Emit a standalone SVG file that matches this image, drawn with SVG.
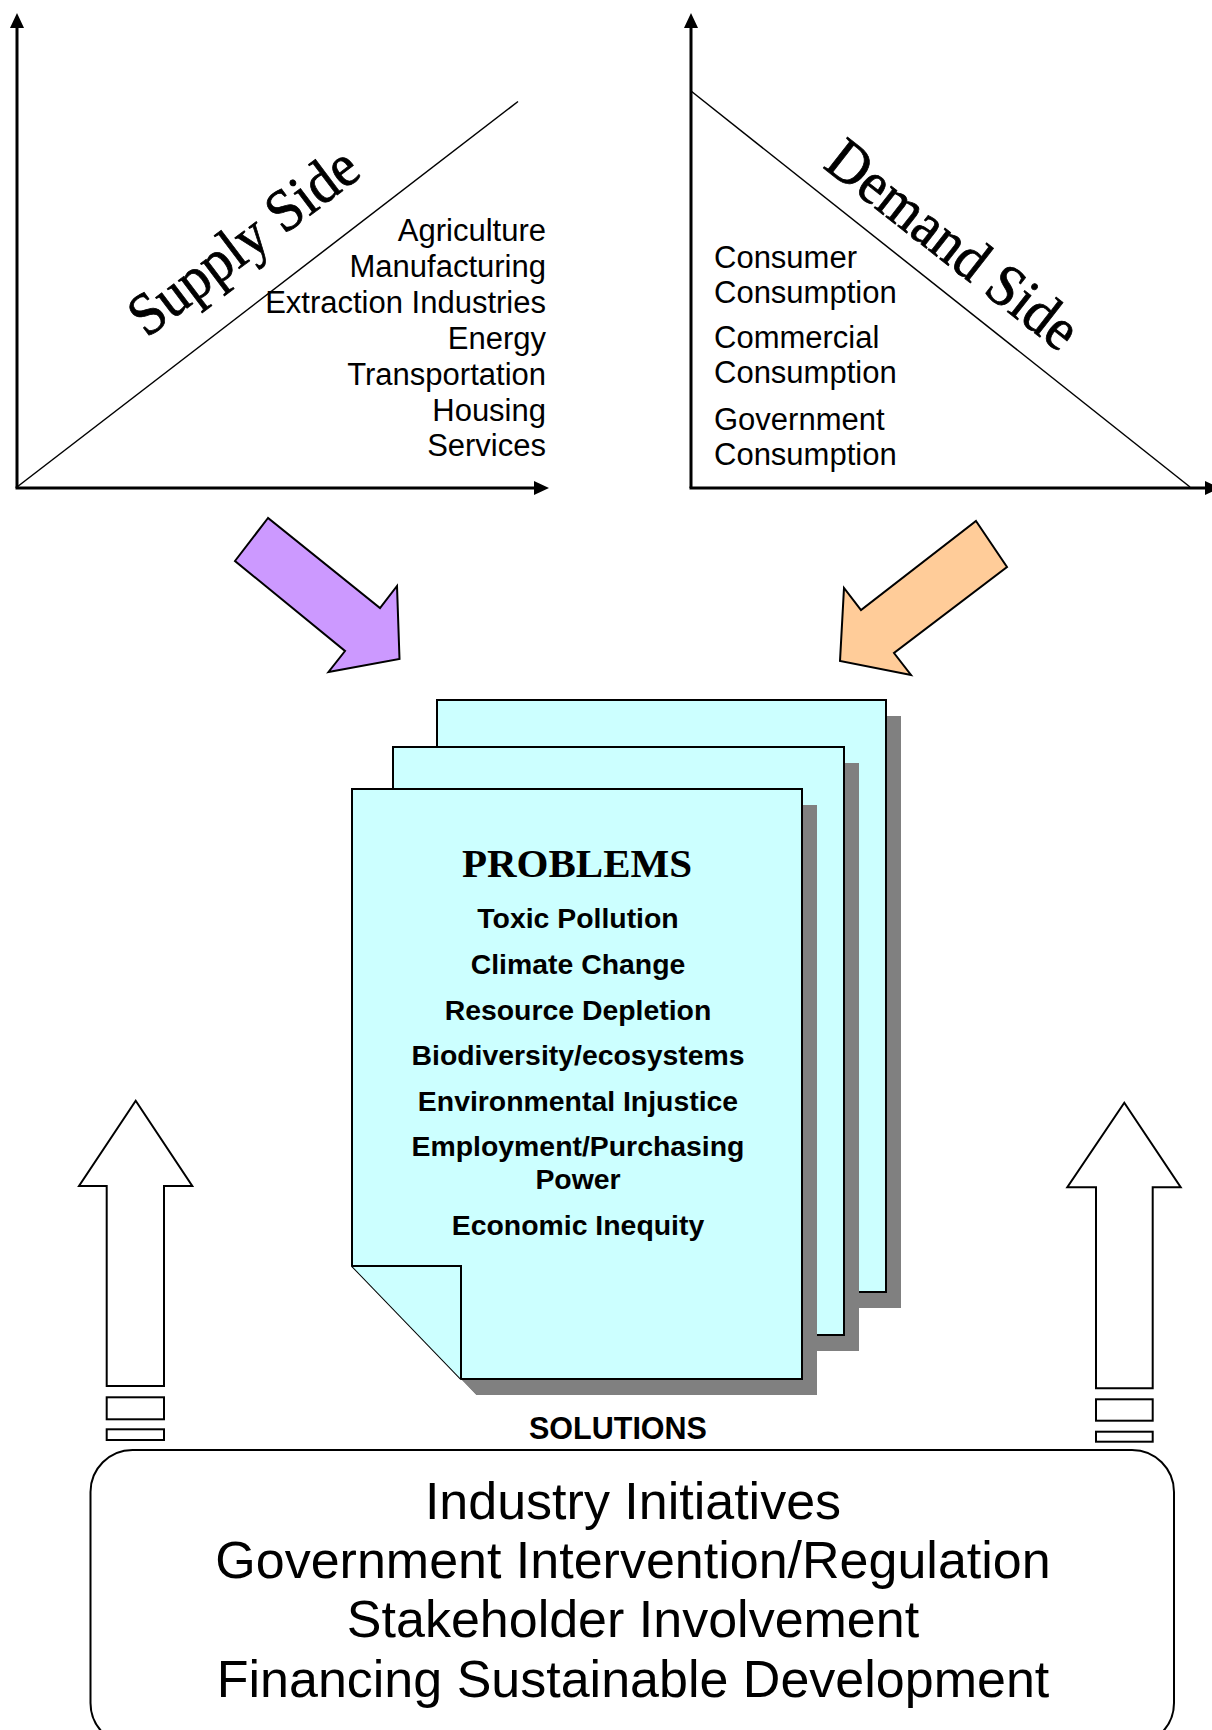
<svg xmlns="http://www.w3.org/2000/svg" width="1212" height="1730" viewBox="0 0 1212 1730">
<style>
.axis{stroke:#000;stroke-width:3;fill:none}
.diag{stroke:#000;stroke-width:1.5;fill:none}
.head{fill:#000}
.lbl{font-family:"Liberation Sans",Arial,sans-serif;font-size:31px;fill:#000}
.big{font-family:"Liberation Serif","Times New Roman",serif;font-size:60px;fill:#000;stroke:#000;stroke-width:0.8;text-anchor:middle}
.sheet{fill:#CCFFFF;stroke:#000;stroke-width:2;stroke-linejoin:miter}
.shadow{fill:#808080}
.prob{font-family:"Liberation Sans",Arial,sans-serif;font-size:28.4px;font-weight:bold;text-anchor:middle;fill:#000}
.title{font-family:"Liberation Serif","Times New Roman",serif;font-size:41px;font-weight:bold;text-anchor:middle;fill:#000}
.sol{font-family:"Liberation Sans",Arial,sans-serif;font-size:52px;text-anchor:middle;fill:#000}
.solt{font-family:"Liberation Sans",Arial,sans-serif;font-size:30.5px;font-weight:bold;text-anchor:middle;fill:#000}
.up{fill:#fff;stroke:#000;stroke-width:2}
.fat{stroke:#000;stroke-width:2;stroke-linejoin:miter}
</style>
<rect width="1212" height="1730" fill="#fff"/>

<g id="supply-chart">
  <line class="axis" x1="17" y1="24" x2="17" y2="488"/>
  <line class="axis" x1="15.5" y1="488" x2="537" y2="488"/>
  <polygon class="head" points="17,13 10,28 24,28"/>
  <polygon class="head" points="549,488 534,481 534,495"/>
  <line class="diag" x1="17" y1="487" x2="518" y2="101.5"/>
  <text class="big" transform="translate(255,257) rotate(-37) scale(0.93,1)">Supply Side</text>
  <g class="lbl" text-anchor="end">
    <text x="546" y="241">Agriculture</text>
    <text x="546" y="277">Manufacturing</text>
    <text x="546" y="313">Extraction Industries</text>
    <text x="546" y="349">Energy</text>
    <text x="546" y="385">Transportation</text>
    <text x="546" y="421">Housing</text>
    <text x="546" y="456">Services</text>
  </g>
</g>

<g id="demand-chart">
  <line class="axis" x1="691" y1="24" x2="691" y2="488"/>
  <line class="axis" x1="689.5" y1="488" x2="1208" y2="488"/>
  <polygon class="head" points="691,13 684,28 698,28"/>
  <polygon class="head" points="1220,488 1205,481 1205,495"/>
  <line class="diag" x1="691" y1="91" x2="1190" y2="487"/>
  <text class="big" transform="translate(941,260) rotate(38) scale(0.93,1)">Demand Side</text>
  <g class="lbl">
    <text x="714" y="268">Consumer</text>
    <text x="714" y="303">Consumption</text>
    <text x="714" y="348">Commercial</text>
    <text x="714" y="383">Consumption</text>
    <text x="714" y="430">Government</text>
    <text x="714" y="465">Consumption</text>
  </g>
</g>

<g id="problems">
  <rect class="shadow" x="452" y="716" width="449" height="592"/>
  <rect class="sheet" x="437" y="700" width="449" height="592"/>
  <rect class="shadow" x="408" y="763" width="451" height="588"/>
  <rect class="sheet" x="393" y="747" width="451" height="588"/>
  <polygon class="shadow" points="367,805 817,805 817,1395 476,1395 367,1282"/>
  <polygon fill="#fff" points="340,1266 352,1266 478,1397 340,1397"/>
  <polygon class="sheet" points="352,789 802,789 802,1379 461,1379 352,1266"/>
  <polyline class="sheet" points="352,1266 461,1266 461,1379"/>
  <text class="title" x="577" y="877">PROBLEMS</text>
  <text class="prob" x="578" y="928">Toxic Pollution</text>
  <text class="prob" x="578" y="974">Climate Change</text>
  <text class="prob" x="578" y="1020">Resource Depletion</text>
  <text class="prob" x="578" y="1065">Biodiversity/ecosystems</text>
  <text class="prob" x="578" y="1111">Environmental Injustice</text>
  <text class="prob" x="578" y="1156">Employment/Purchasing</text>
  <text class="prob" x="578" y="1189">Power</text>
  <text class="prob" x="578" y="1235">Economic Inequity</text>
</g>

<g id="solutions">
  <rect x="90.5" y="1450" width="1083.5" height="295" rx="42" ry="42" fill="#fff" stroke="#000" stroke-width="2"/>
  <text class="solt" x="618" y="1439">SOLUTIONS</text>
  <text class="sol" x="633" y="1519">Industry Initiatives</text>
  <text class="sol" x="633" y="1578">Government Intervention/Regulation</text>
  <text class="sol" x="633" y="1637">Stakeholder Involvement</text>
  <text class="sol" x="633" y="1697">Financing Sustainable Development</text>
</g>

<g id="connectors">
  <polygon class="fat" fill="#CC99FF" points="268,518 235,561 345,651 328.5,672 399.5,659 397,586 380,608"/>
  <polygon class="fat" fill="#FFCC99" points="976,521 1007,567 894,653 911,675 840,661 844,588 861,610"/>
  <g id="up-left">
    <polygon class="up" points="135.7,1100.7 192.3,1186 164,1186 164,1386 106.7,1386 106.7,1186 79,1186"/>
    <rect class="up" x="106.7" y="1397.3" width="57.3" height="22"/>
    <rect class="up" x="106.7" y="1429.3" width="57.3" height="10.7"/>
  </g>
  <g id="up-right">
    <polygon class="up" points="1124.3,1102.7 1180.7,1187.3 1152.7,1187.3 1152.7,1388.3 1096,1388.3 1096,1187.3 1067.3,1187.3"/>
    <rect class="up" x="1096" y="1399.3" width="56.7" height="21.4"/>
    <rect class="up" x="1096" y="1431.7" width="56.7" height="10"/>
  </g>
</g>
</svg>
